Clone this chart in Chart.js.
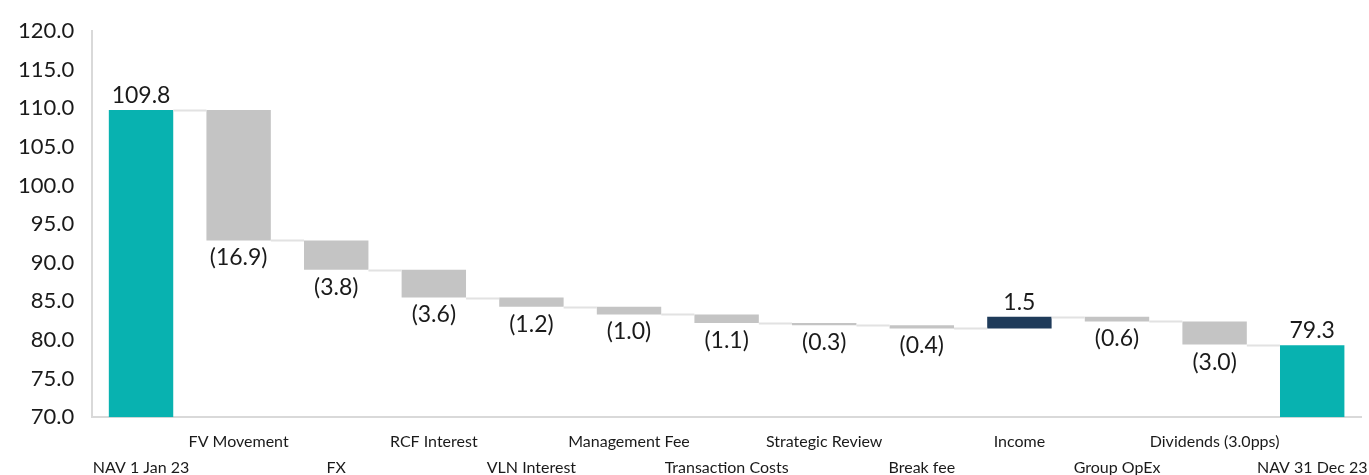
<!DOCTYPE html>
<html>
<head>
<meta charset="utf-8">
<script src="https://cdn.jsdelivr.net/npm/chart.js@4/dist/chart.umd.min.js"></script>
<style>
  html, body { margin: 0; padding: 0; background: #fff; }
  #wrap { width: 1369px; height: 475px; }
</style>
</head>
<body>
<div id="wrap"><canvas id="nav-chart"></canvas></div>
<script>
const Y_MIN = 70;
const Y_MAX = 120;

const categories = [
  'NAV 1 Jan 23', 'FV Movement', 'FX', 'RCF Interest', 'VLN Interest',
  'Management Fee', 'Transaction Costs', 'Strategic Review', 'Break fee',
  'Income', 'Group OpEx', 'Dividends (3.0pps)', 'NAV 31 Dec 23'
];
const openingNav = 109.8;
const closingNav = 79.3;
const movements = [-16.9, -3.8, -3.6, -1.2, -1.0, -1.1, -0.3, -0.4, 1.5, -0.6, -3.0];

const TEAL = '#08b2b0';
const GREY = '#c4c4c4';
const NAVY = '#1f3b5a';
const LINK = '#e2e2e2';

// build floating ranges + the level each bar ends at
const ranges = [];
const levels = [];
const colors = [];
const texts = [];
ranges.push([Y_MIN, openingNav]);
levels.push(openingNav);
colors.push(TEAL);
texts.push(openingNav.toFixed(1));
let running = openingNav;
movements.forEach((m) => {
  const next = running + m;
  ranges.push([Math.min(running, next), Math.max(running, next)]);
  levels.push(next);
  colors.push(m < 0 ? GREY : NAVY);
  texts.push(m < 0 ? `(${Math.abs(m).toFixed(1)})` : m.toFixed(1));
  running = next;
});
ranges.push([Y_MIN, closingNav]);
levels.push(closingNav);
colors.push(TEAL);
texts.push(closingNav.toFixed(1));

const FONT = 'Lato, "Noto Sans", sans-serif';
const X_FONT_SIZE = 16;
const X_LINE = 1.62;
const X_PAD = 12;

const waterfallExtras = {
  id: 'waterfallExtras',
  afterDatasetsDraw(chart) {
    const { ctx } = chart;
    const meta = chart.getDatasetMeta(0);
    const x = chart.scales.x;
    const y = chart.scales.y;
    ctx.save();
    // connectors
    ctx.strokeStyle = LINK;
    ctx.lineWidth = 2;
    for (let i = 0; i < meta.data.length - 1; i++) {
      const a = meta.data[i];
      const b = meta.data[i + 1];
      const py = Math.round(y.getPixelForValue(levels[i])) + 0.5;
      ctx.beginPath();
      ctx.moveTo(a.x + a.width / 2, py);
      ctx.lineTo(b.x - b.width / 2, py);
      ctx.stroke();
    }
    // value labels
    ctx.fillStyle = '#1a1a1a';
    ctx.font = `23px ${FONT}`;
    ctx.textAlign = 'center';
    meta.data.forEach((bar, i) => {
      const isDown = i > 0 && i < meta.data.length - 1 && movements[i - 1] < 0;
      const r = ranges[i];
      if (isDown) {
        ctx.textBaseline = 'top';
        ctx.fillText(texts[i], bar.x, y.getPixelForValue(r[0]) + 6);
      } else {
        ctx.textBaseline = 'bottom';
        ctx.fillText(texts[i], bar.x, y.getPixelForValue(r[1]) - 3);
      }
    });
    // category labels, staggered on two rows
    ctx.font = `${X_FONT_SIZE}px ${FONT}`;
    ctx.textBaseline = 'middle';
    const lh = X_FONT_SIZE * X_LINE;
    categories.forEach((c, i) => {
      const row = i % 2 === 0 ? 1 : 0;
      ctx.fillText(c, x.getPixelForValue(i), x.top + X_PAD + lh * (row + 0.5));
    });
    ctx.restore();
  }
};

new Chart(document.getElementById('nav-chart'), {
  type: 'bar',
  data: {
    labels: categories,
    datasets: [{
      data: ranges,
      backgroundColor: colors,
      borderWidth: 0,
      categoryPercentage: 1,
      barPercentage: 0.66
    }]
  },
  options: {
    responsive: true,
    maintainAspectRatio: false,
    animation: false,
    layout: { padding: { top: 18, right: 8, left: 0, bottom: -18 } },
    plugins: {
      legend: { display: false },
      tooltip: { enabled: false }
    },
    scales: {
      x: {
        grid: { display: false, drawTicks: false },
        border: { display: true, color: '#d9d9d9', width: 2 },
        ticks: {
          // keep two empty lines of room; the names are drawn by the plugin
          callback: () => ['', ''],
          font: { family: FONT, size: X_FONT_SIZE, lineHeight: X_LINE },
          maxRotation: 0,
          autoSkip: false,
          padding: X_PAD
        }
      },
      y: {
        min: Y_MIN,
        max: Y_MAX,
        grid: { display: false, drawTicks: false },
        border: { display: true, color: '#d9d9d9', width: 2 },
        ticks: {
          stepSize: 5,
          color: '#1a1a1a',
          font: { family: FONT, size: 22 },
          padding: 18,
          callback: (v) => Number(v).toFixed(1)
        }
      }
    }
  },
  plugins: [waterfallExtras]
});
</script>
</body>
</html>
